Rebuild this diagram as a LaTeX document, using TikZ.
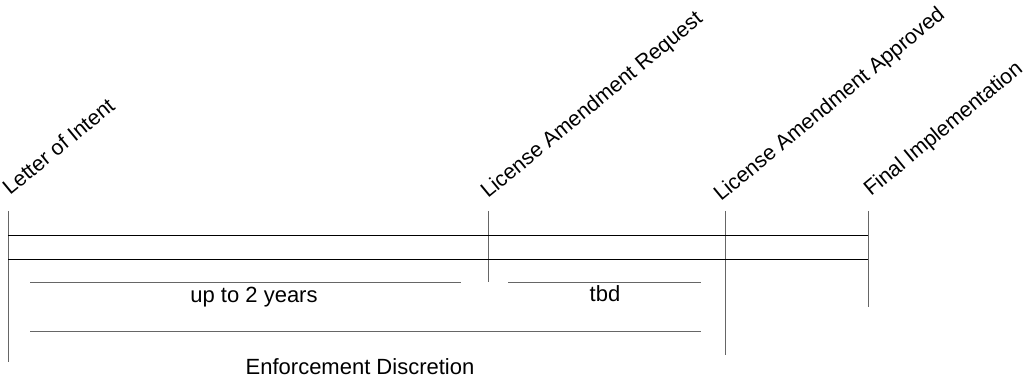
\documentclass[tikz,border=0pt]{standalone}
\usepackage{fontspec}
\setmainfont{Liberation Sans}
\usetikzlibrary{positioning}

\begin{document}
\begin{tikzpicture}[x=1pt, y=-1pt, font=\fontsize{22}{26}\selectfont,
		mile/.style={draw=black!60, line width=1pt},
		span/.style={draw=black!60, line width=1pt},
		milelabel/.style={rotate=39.5, anchor=base west, inner sep=0pt, font=\fontsize{21.3}{26}\selectfont}]
			\useasboundingbox (0,0) rectangle (1029,377);
			
			\coordinate (loi) at (8, 211);
			\coordinate (loiend) at (8, 362);
			\coordinate (lar) at (488, 211);
			\coordinate (larend) at (488, 282);
			\coordinate (laa) at (725, 211);
			\coordinate (laaend) at (725, 355);
			\coordinate (fin) at (868, 211);
			\coordinate (finend) at (868, 307);
			
			\coordinate (barleft) at (8, 235);
			\coordinate (barright) at (868, 259);
			
			\draw[mile] (loi) -- (loiend);
			\draw[mile] (lar) -- (larend);
			\draw[mile] (laa) -- (laaend);
			\draw[mile] (fin) -- (finend);
			
			\draw[line width=1pt] (barleft) -- (barleft -| barright);
			\draw[line width=1pt] (barleft |- barright) -- (barright);
			
			\node[milelabel] (loilabel) at (10, 196) {Letter of Intent};
			\node[milelabel] (larlabel) at (488, 199) {License Amendment Request};
			\node[milelabel] (laalabel) at (721, 202) {License Amendment Approved};
			\node[milelabel] (finlabel) at (871, 197) {Final Implementation};
			
			\coordinate (twoyrs) at (30, 282);
			\coordinate (twoyrsend) at (461, 282);
			\coordinate (tbd) at (508, 282);
			\coordinate (tbdend) at (701, 282);
			\coordinate (enf) at (30, 331);
			\coordinate (enfend) at (701, 331);
			
			\draw[span] (twoyrs) -- (twoyrsend);
			\draw[span] (tbd) -- (tbdend);
			\draw[span] (enf) -- (enfend);
			
			\node[anchor=base] (twoyrslabel) at (254, 302) {up to 2 years};
			\node[anchor=base] (tbdlabel) at (605, 301) {tbd};
			\node[anchor=base] (enflabel) at (360, 374) {Enforcement Discretion};
			
		\end{tikzpicture}
\end{document}
